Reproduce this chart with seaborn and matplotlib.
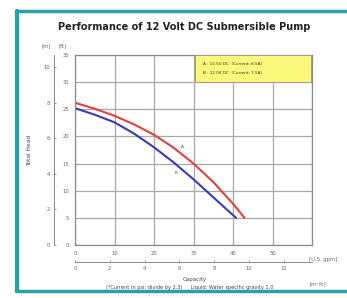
import matplotlib
matplotlib.use("Agg")
import matplotlib.pyplot as plt
import seaborn as sns
import pandas as pd
from matplotlib.patches import Rectangle
from matplotlib.lines import Line2D

# ---- data ----
flow_a = [0, 5, 10, 15, 20, 25, 30, 35, 40, 42.9]                 # U.S. gpm
head_a = [26.2, 25.1, 23.8, 22.2, 20.3, 17.9, 15.0, 11.6, 7.6, 5.0]  # ft
flow_b = [0, 5, 10, 15, 20, 25, 30, 35, 40, 40.8]
head_b = [25.2, 24.0, 22.6, 20.5, 18.0, 15.2, 12.1, 8.8, 5.5, 5.0]
series_names = ["A", "B"]
legend_lines = ["A : 13.5V DC  (Current: 8.5A)", "B : 12.0V DC  (Current: 7.5A)"]
gpm_ticks = [0, 10, 20, 30, 40, 50, 60]
gpm_labels = ["0", "10", "20", "30", "40", "50", ""]
ft_ticks = [0, 5, 10, 15, 20, 25, 30, 35]
m_ticks = [0, 2, 4, 6, 8, 10]
m3h_ticks = [0, 2, 4, 6, 8, 10, 12]
title = "Performance of 12 Volt DC Submersible Pump"
footnote = "(*Current in psi: divide by 2.3)     Liquid: Water specific gravity 1.0"

df = pd.concat([
    pd.DataFrame({"flow": flow_a, "head": head_a, "curve": series_names[0]}),
    pd.DataFrame({"flow": flow_b, "head": head_b, "curve": series_names[1]}),
])

sns.set_style("white")
plt.rcParams["font.family"] = ["DejaVu Sans"]

W, H = 347, 298
fig = plt.figure(figsize=(W / 100, H / 100), dpi=100)
fig.patch.set_facecolor("white")

L, R, T, B = 75, 312, 55, 245
ax = fig.add_axes([L / W, 1 - B / H, (R - L) / W, (B - T) / H])

sns.lineplot(data=df, x="flow", y="head", hue="curve",
             palette={"A": "#e04040", "B": "#3a3ab4"}, linewidth=1.5,
             legend=False, ax=ax, sort=False)

ax.set_xlim(0, 60)
ax.set_ylim(0, 35)
ax.set_xticks(gpm_ticks)
ax.set_xticklabels(gpm_labels)
ax.set_yticks(ft_ticks)
ax.grid(True, color="#a8a8a8", linewidth=0.9)
for s in ax.spines.values():
    s.set_color("#8a8a8a")
    s.set_linewidth(0.9)
ax.tick_params(axis="both", length=0, labelsize=3.8, colors="#666666", pad=4)
ax.set_xlabel("")
ax.set_ylabel("Total Head", fontsize=4.2, color="#444444", labelpad=22)

ax.text(59.3, -2.3, "[U.S. gpm]", fontsize=3.8, color="#666666", ha="left", va="top")

# secondary axes: m and m3/h
sec_y = ax.secondary_yaxis(-0.089, functions=(lambda ft: ft * 0.3048, lambda m: m / 0.3048))
sec_y.set_yticks(m_ticks)
sec_y.tick_params(labelsize=3.8, colors="#666666", length=1.5, width=0.5, direction="in", pad=3)
sec_y.spines["left"].set_color("#8a8a8a")
sec_y.spines["left"].set_linewidth(0.7)

sec_x = ax.secondary_xaxis(-0.089, functions=(lambda g: g * 0.22712, lambda q: q / 0.22712))
sec_x.set_xticks(m3h_ticks)
sec_x.tick_params(labelsize=3.8, colors="#666666", length=1.5, width=0.5, direction="in", pad=3)
sec_x.spines["bottom"].set_color("#8a8a8a")
sec_x.spines["bottom"].set_linewidth(0.7)
ax.text(59.3, -6.7, "[m³/h]", fontsize=3.8, color="#666666", ha="left", va="top")

# unit headers
fig.text(46 / W, 1 - 46 / H, "[m]", fontsize=3.8, color="#666666", ha="center", va="center")
fig.text(63 / W, 1 - 46 / H, "[ft]", fontsize=3.8, color="#666666", ha="center", va="center")

# curve labels
ax.text(27.3, 18.0, "A", fontsize=3.2, color="#555555", ha="center", va="center")
ax.text(25.5, 13.3, "B", fontsize=3.2, color="#555555", ha="center", va="center")

# legend box
ax.add_patch(Rectangle((0.506, 0.858), 0.49, 0.142, transform=ax.transAxes,
                       facecolor="#fbf77a", edgecolor="#9a9a9a", linewidth=0.7, zorder=5))
ax.text(0.54, 0.955, legend_lines[0], transform=ax.transAxes, fontsize=3.0,
        color="#333333", va="center", zorder=6)
ax.text(0.54, 0.905, legend_lines[1], transform=ax.transAxes, fontsize=3.0,
        color="#333333", va="center", zorder=6)

# titles / captions
fig.text(184 / W, 1 - 27 / H, title, fontsize=7.0, fontweight="bold",
         color="#222222", ha="center", va="center")
fig.text(195 / W, 1 - 279 / H, "Capacity", fontsize=4.0, color="#444444", ha="center", va="center")
fig.text(190 / W, 1 - 287 / H, footnote, fontsize=3.6, color="#444444", ha="center", va="center")

# teal frame
teal = "#2a9fae"
fig.add_artist(Line2D([17 / W, 17 / W], [1 - 11 / H, 1 - 291 / H], color=teal, linewidth=3,
                      transform=fig.transFigure))
fig.add_artist(Line2D([15.5 / W, 1.0], [1 - 11 / H, 1 - 11 / H], color=teal, linewidth=2.5,
                      transform=fig.transFigure))
fig.add_artist(Line2D([15.5 / W, 1.0], [1 - 291 / H, 1 - 291 / H], color=teal, linewidth=2.5,
                      transform=fig.transFigure))

fig.savefig("out.png", dpi=100)
